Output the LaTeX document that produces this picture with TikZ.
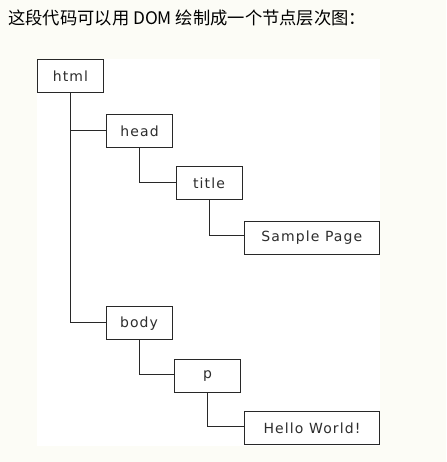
\documentclass[tikz,border=0pt]{standalone}
\usepackage{fontspec}
\setmainfont{DejaVu Sans}
\newfontfamily\cjk{Noto Sans CJK SC}
\newfontfamily\boxfont[LetterSpace=8]{DejaVu Sans}
\definecolor{bg}{RGB}{252,252,246}
\definecolor{edge}{RGB}{40,40,40}
\definecolor{boxtext}{RGB}{45,45,45}
\begin{document}
\begin{tikzpicture}[x=1pt,y=-1pt,
  domnode/.style={draw=edge, line width=1pt, fill=white, inner sep=0pt,
    minimum height=33pt, minimum width=66pt,
    font=\boxfont\fontsize{14}{14}\selectfont, text=boxtext},
  widenode/.style={domnode, minimum width=135pt},
  link/.style={draw=edge, line width=1pt}]
  \fill[bg] (0,0) rectangle (446,462);
  \useasboundingbox (0,0) rectangle (446,462);
  \fill[white] (37,59) rectangle (380,446);
  \node[anchor=base west, inner sep=0pt, font=\cjk\fontsize{17.3}{17.3}\selectfont, text=black] (caption) at (8,24.5) {这段代码可以用 DOM 绘制成一个节点层次图：};
  \node[domnode] (html) at (70.5,76.5) {html};
  \node[domnode] (head) at (139.5,131) {head};
  \node[domnode] (title) at (209,183) {title};
  \node[widenode] (sample) at (311.8,237.7) {Sample Page};
  \node[domnode] (body) at (139,323.3) {body};
  \node[domnode] (p) at (207.5,375.7) {p};
  \node[widenode] (hello) at (312,428.3) {Hello World!};
  \draw[link] (html.south) |- (head.west);
  \draw[link] (html.south) |- ([yshift=1pt]body.west);
  \draw[link] (head.south) |- (title.west);
  \draw[link] (title.south) |- ([yshift=2pt]sample.west);
  \draw[link] (body.south) |- ([yshift=1pt]p.west);
  \draw[link] (p.south) |- ([yshift=2pt]hello.west);
\end{tikzpicture}
\end{document}
